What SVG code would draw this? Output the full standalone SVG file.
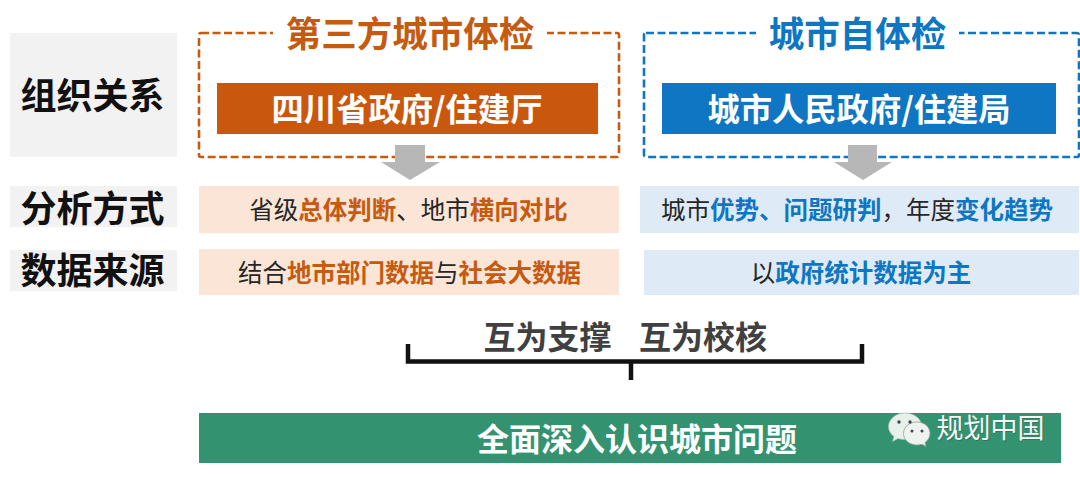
<svg xmlns="http://www.w3.org/2000/svg" width="1080" height="477" viewBox="0 0 1080 477">
<style>
text{font-family:"Noto Sans CJK SC","Noto Sans",sans-serif;text-anchor:middle;dominant-baseline:central}
.lab{font-size:36px;font-weight:700;fill:#111}
.row{font-size:24.5px;fill:#262626}
.or{fill:#C55A11;font-weight:700}
.bl{fill:#0E76C3;font-weight:700}
.title{font-size:35.5px;font-weight:700}
.head{font-size:32.3px;font-weight:700;fill:#fff}
.dash{fill:none;stroke-width:2.6;stroke-dasharray:8 3.500}
.gap{fill:#fff}
.arrow{fill:#B7B7B7}
.lbg{fill:#F2F2F2}
.brk{fill:none;stroke:#111;stroke-width:4.500}
</style>
<rect width="1080" height="477" fill="#fff"/>
<g id="label-org"><rect class="lbg" x="10" y="33" width="167" height="124"/><text class="lab" x="92.500" y="93">组织关系</text></g>
<g id="label-method"><rect class="lbg" x="10" y="186" width="167" height="41"/><text class="lab" x="92.500" y="206">分析方式</text></g>
<g id="label-data"><rect class="lbg" x="10" y="250" width="167" height="41"/><text class="lab" x="92.500" y="268">数据来源</text></g>

<g id="third-party">
<rect class="dash" x="199" y="33" width="420" height="124" rx="2" stroke="#C55A11"/>
<rect class="gap" x="273" y="25" width="274" height="16"/>
<text class="title" x="410" y="31" fill="#C55A11">第三方城市体检</text>
<rect x="217" y="83" width="381" height="51" fill="#C9580E"/>
<text class="head" x="407" y="106.500">四川省政府/住建厅</text>
</g>
<g id="self-check">
<rect class="dash" x="644" y="33" width="435" height="124" rx="2" stroke="#0E76C3"/>
<rect class="gap" x="756" y="25" width="203" height="16"/>
<text class="title" x="857.500" y="31" fill="#0E76C3">城市自体检</text>
<rect x="662" y="83" width="394" height="51" fill="#0E76C3"/>
<text class="head" x="859" y="106.500">城市人民政府/住建局</text>
</g>

<g id="connectors">
<path class="arrow" d="M395 145H425V162H440L410 180L381 162H395Z"/>
<path class="arrow" d="M848 145H877V162H892L863 180L834 162H848Z"/>
<path class="brk" d="M408 344V361.500H862V344M631 361.500V380"/>
</g>

<g id="method-third"><rect x="199" y="186" width="420" height="47" fill="#FBE5D6"/>
<text class="row" x="408.500" y="208">省级<tspan class="or">总体判断</tspan>、地市<tspan class="or">横向对比</tspan></text></g>
<g id="method-self"><rect x="640" y="186" width="439" height="47" fill="#DEEBF7"/>
<text class="row" x="857" y="208">城市<tspan class="bl">优势、问题研判</tspan>，年度<tspan class="bl">变化趋势</tspan></text></g>
<g id="data-third"><rect x="199" y="249" width="420" height="46" fill="#FBE5D6"/>
<text class="row" x="409.500" y="271">结合<tspan class="or">地市部门数据</tspan>与<tspan class="or">社会大数据</tspan></text></g>
<g id="data-self"><rect x="644" y="250" width="435" height="45" fill="#DEEBF7"/>
<text class="row" x="861" y="271">以<tspan class="bl">政府统计数据为主</tspan></text></g>

<g id="mutual"><text x="547.500" y="335" font-size="32" font-weight="700" fill="#404040">互为支撑</text><text x="703" y="335" font-size="32" font-weight="700" fill="#404040">互为校核</text></g>

<g id="result"><rect x="199" y="413" width="862" height="50" fill="#339370"/>
<text x="637" y="437" font-size="32" font-weight="700" fill="#fff">全面深入认识城市问题</text></g>

<g id="watermark">
<path d="M905 413c-9 0-16.500 6-16.500 13.500c0 4 2 7.500 5.500 10l-1.500 5l5.500-3c2 .7 4.500 1 7 1c9 0 16.500-6 16.500-13.500S914 413 905 413Z" fill="#E8F0EC" stroke="#A9B9B1" stroke-width=".6"/>
<path d="M917 422c-7.500 0-13.500 5-13.500 11.500s6 11.500 13.500 11.500c1.700 0 3.500-.3 5-.8l4 2.300l-1-4c3-2.200 5-5.500 5-9C930 427 924.500 422 917 422Z" fill="#EEF3F0" stroke="#8FA39A" stroke-width=".8"/>
<circle cx="899" cy="422" r="1.700" fill="#445"/><circle cx="910" cy="422" r="1.700" fill="#445"/>
<circle cx="912" cy="431" r="1.500" fill="#445"/><circle cx="922" cy="431" r="1.500" fill="#445"/>
<text x="990.500" y="426.500" font-size="27" fill="#3a3a3a" opacity=".35" transform="translate(1 1)">规划中国</text>
<text x="990.500" y="426.500" font-size="27" fill="#F4F7F5">规划中国</text>
</g>
</svg>
